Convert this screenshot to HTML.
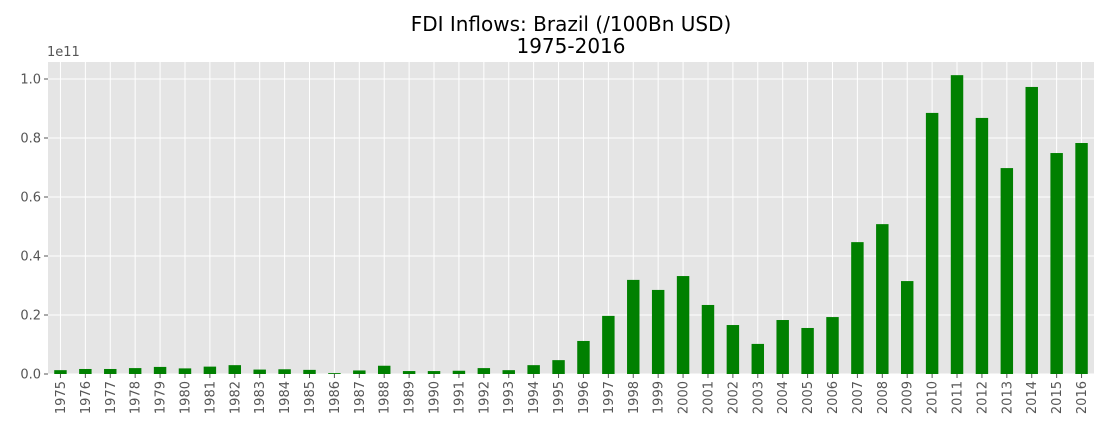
<!DOCTYPE html>
<html><head><meta charset="utf-8"><style>
body{margin:0;background:#fff;}
svg{display:block;font-family:"DejaVu Sans","Liberation Sans",sans-serif;}
</style></head><body>
<svg id="chart" width="1113" height="434">
<rect x="48" y="62" width="1046" height="312" fill="#e5e5e5"/>
<g id="grid"></g><g id="bars"></g><g id="axes"></g>
<text x="571" y="31" text-anchor="middle" font-size="20" fill="#000">FDI Inflows: Brazil (/100Bn USD)</text>
<text x="571" y="53" text-anchor="middle" font-size="20" fill="#000">1975-2016</text>
<text x="47" y="56" font-size="13" fill="#555">1e11</text>
</svg>
<script>
const years=[];for(let y=1975;y<=2016;y++)years.push(String(y));
const values=[0.013,0.017,0.017,0.020,0.024,0.019,0.025,0.030,0.015,0.016,0.014,0.003,0.012,0.028,0.010,0.010,0.011,0.020,0.013,0.030,0.047,0.112,0.197,0.319,0.285,0.332,0.234,0.166,0.102,0.183,0.156,0.193,0.447,0.508,0.315,0.885,1.013,0.868,0.698,0.973,0.749,0.783];
const yTicks=[0,0.2,0.4,0.6,0.8,1.0];
const yTickLabels=["0.0","0.2","0.4","0.6","0.8","1.0"];
const NS="http://www.w3.org/2000/svg";
const L=48,R=1094,T=62,B=374,yMax=1.0576;
const step=(R-L)/years.length;
function xC(i){return L+step*(i+0.5);}
function yS(v){return B-(v/yMax)*(B-T);}
function mk(tag,attrs,parent){const e=document.createElementNS(NS,tag);for(const k in attrs)e.setAttribute(k,attrs[k]);document.getElementById(parent).appendChild(e);return e;}
yTicks.forEach((t,i)=>{
 const g=mk('line',{x1:L,x2:R,y1:yS(t),y2:yS(t),stroke:'#fff','stroke-width':1},'grid');
 
 
 const tk=mk('line',{x1:L-4,x2:L,y1:yS(t),y2:yS(t),stroke:'#555'},'axes');
 
 
 const tx=mk('text',{x:L-7,y:yS(t)+4.5,'text-anchor':'end','font-size':13,fill:'#555'},'axes');
 tx.textContent=yTickLabels[i];
 
 
});
years.forEach((yr,i)=>{
 const x=xC(i);
 const g=mk('line',{x1:x,x2:x,y1:T,y2:B,stroke:'#fff','stroke-width':1},'grid');
 
 
 const b=mk('rect',{x:x-step/4,width:step/2,y:yS(values[i]),height:B-yS(values[i]),fill:'#008000'},'bars');
 
 
 const tk=mk('line',{x1:x,x2:x,y1:B,y2:B+4,stroke:'#555'},'axes');
 
 
 const tx=mk('text',{x:0,y:0,'text-anchor':'end','font-size':13,fill:'#555',transform:`translate(${x+4.5},${B+7}) rotate(-90)`},'axes');
 tx.textContent=yr;
 
 
});
</script>
</body></html>
